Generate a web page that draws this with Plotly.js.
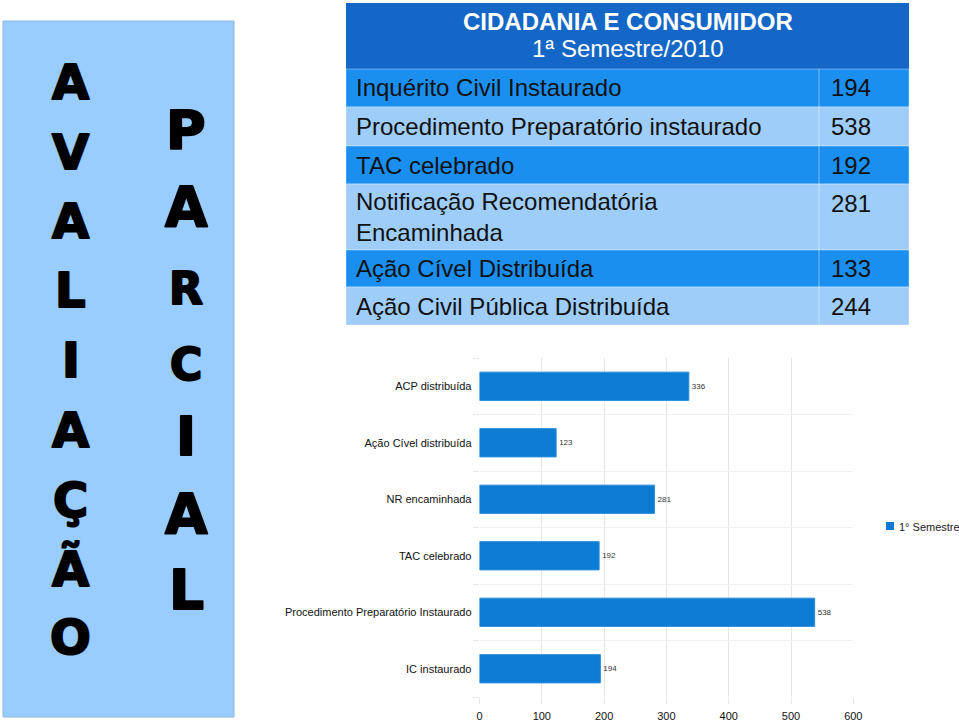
<!DOCTYPE html>
<html>
<head>
<meta charset="utf-8">
<script src="https://cdn.plot.ly/plotly-3.0.1.min.js"></script>
<style>html,body{margin:0;padding:0;background:#fff;}#chart{width:959px;height:721px;}</style>
</head>
<body>
<div id="chart"></div>
<script>
// ---- data ----
const categories = ["IC instaurado", "Procedimento Preparatório Instaurado", "TAC celebrado", "NR encaminhada", "Ação Cível distribuída", "ACP distribuída"];
const values = [194, 538, 192, 281, 123, 336];
const seriesName = "1° Semestre";
const xTicks = [0, 100, 200, 300, 400, 500, 600];

const tableTitle = "CIDADANIA E CONSUMIDOR";
const tableSubtitle = "1ª Semestre/2010";
const tableLabels = ["Inquérito Civil Instaurado", "Procedimento Preparatório instaurado", "TAC celebrado", "Notificação Recomendatória<br>Encaminhada", "Ação Cível Distribuída", "Ação Civil Pública Distribuída"];
const tableValues = [194, 538, 192, 281, 133, 244];

const lettersLeft = ["A", "V", "A", "L", "I", "A", "Ç", "Ã", "O"];
const lettersRight = ["P", "A", "R", "C", "I", "A", "L"];

// ---- layout helpers (pixel -> paper) ----
const W = 959, H = 721;
const X = px => px / W;
const Y = py => 1 - py / H;

const shapes = [];
const annotations = [];

// left panel
shapes.push({type: "rect", xref: "paper", yref: "paper", x0: X(3), x1: X(234), y0: Y(717), y1: Y(21),
  fillcolor: "#99CCFF", line: {color: "#8DB8E0", width: 1}, layer: "below"});
const leftY = [82.5, 152, 221, 290, 360, 430, 500, 569, 637];
lettersLeft.forEach((ch, i) => {
  annotations.push({xref: "paper", yref: "paper", x: X(70.5), y: Y(leftY[i]), xanchor: "center", yanchor: "middle",
    text: "<b>" + ch + "</b>", showarrow: false, font: {family: "DejaVu Sans", size: 48, color: "#000"}});
});
const rightY = [130, 207, 288, 364, 437, 514, 590];
const rightSize = [54, 55, 44, 44, 54, 55, 55];
lettersRight.forEach((ch, i) => {
  annotations.push({xref: "paper", yref: "paper", x: X(186), y: Y(rightY[i]), xanchor: "center", yanchor: "middle",
    text: "<b>" + ch + "</b>", showarrow: false, font: {family: "DejaVu Sans", size: rightSize[i], color: "#000"}});
});

// table
const tL = 346, tR = 909, tDiv = 819;
shapes.push({type: "rect", xref: "paper", yref: "paper", x0: X(tL), x1: X(tR), y0: Y(69), y1: Y(3),
  fillcolor: "#1467C6", line: {width: 0}, layer: "below"});
annotations.push({xref: "paper", yref: "paper", x: X((tL + tR) / 2), y: Y(22), xanchor: "center", yanchor: "middle",
  text: "<b>" + tableTitle + "</b>", showarrow: false, font: {family: "Liberation Sans", size: 24, color: "#fff"}});
annotations.push({xref: "paper", yref: "paper", x: X((tL + tR) / 2), y: Y(49), xanchor: "center", yanchor: "middle",
  text: tableSubtitle, showarrow: false, font: {family: "Liberation Sans", size: 24, color: "#fff"}});
const rowEdges = [69, 107, 146, 184, 250, 287, 325];
tableLabels.forEach((lab, i) => {
  const y0 = rowEdges[i], y1 = rowEdges[i + 1];
  const fill = i % 2 === 0 ? "#1A8FF0" : "#9FCDF9";
  shapes.push({type: "rect", xref: "paper", yref: "paper", x0: X(tL), x1: X(tR), y0: Y(y1), y1: Y(y0),
    fillcolor: fill, line: {color: "rgba(255,255,255,0.35)", width: 1}, layer: "below"});
  const twoLine = lab.indexOf("<br>") >= 0;
  const cy = (y0 + y1) / 2;
  annotations.push({xref: "paper", yref: "paper", x: X(354), y: Y(cy), xanchor: "left", yanchor: "middle", align: "left",
    text: lab, showarrow: false, font: {family: "Liberation Sans", size: 24, color: "#111"}});
  annotations.push({xref: "paper", yref: "paper", x: X(829), y: Y(twoLine ? y0 + 19 : cy), xanchor: "left", yanchor: "middle",
    text: String(tableValues[i]), showarrow: false, font: {family: "Liberation Sans", size: 24, color: "#111"}});
});
shapes.push({type: "line", xref: "paper", yref: "paper", x0: X(tDiv), x1: X(tDiv), y0: Y(325), y1: Y(69),
  line: {color: "rgba(255,255,255,0.45)", width: 1}, layer: "below"});

// legend (manual)
shapes.push({type: "rect", xref: "paper", yref: "paper", x0: X(886), x1: X(894), y0: Y(530), y1: Y(522),
  fillcolor: "#0B7BD3", line: {width: 0}});
annotations.push({xref: "paper", yref: "paper", x: X(897), y: Y(527), xanchor: "left", yanchor: "middle",
  text: seriesName, showarrow: false, font: {family: "Liberation Sans", size: 11, color: "#222"}});

const trace = {
  type: "bar", orientation: "h", y: categories, x: values, name: seriesName,
  marker: {color: "#0B7BD3", line: {color: "#2C8CD8", width: 1}},
  text: values.map(String), textposition: "outside", cliponaxis: false,
  textfont: {family: "Liberation Sans", size: 8, color: "#333"},
  hoverinfo: "x+y"
};

const layout = {
  width: W, height: H,
  margin: {l: 0, r: 0, t: 0, b: 0},
  paper_bgcolor: "#fff", plot_bgcolor: "#fff",
  showlegend: false,
  bargap: 0.5,
  xaxis: {domain: [X(479.5), X(853.3)], range: [0, 600], tickvals: xTicks, ticktext: xTicks.map(String),
    showgrid: true, gridcolor: "#e6e6e6", zeroline: false, showline: false,
    ticks: "outside", ticklen: 6, tickcolor: "#e6e6e6", ticklabelstandoff: 3,
    tickfont: {family: "Liberation Sans", size: 11, color: "#111"}, fixedrange: true},
  yaxis: {domain: [Y(697), Y(358)], type: "category", categoryorder: "array", categoryarray: categories,
    tickson: "boundaries", showgrid: true, gridcolor: "#f0f0f0", ticks: "outside", ticklen: 6, tickcolor: "#e6e6e6",
    zeroline: false, showline: false, ticklabelstandoff: 7,
    tickfont: {family: "Liberation Sans", size: 11, color: "#111"}, fixedrange: true},
  shapes: shapes,
  annotations: annotations
};

Plotly.newPlot("chart", [trace], layout, {displayModeBar: false, staticPlot: true}).then(gd => {
  // heavier strokes for the big panel letters (Arial Black look)
  gd.querySelectorAll(".annotation-text").forEach(t => {
    const fs = parseFloat(t.style.fontSize || "0");
    if (fs >= 40) { t.style.stroke = "#000"; t.style.strokeWidth = "2px"; t.style.strokeLinejoin = "round"; }
  });
});
</script>
</body>
</html>
